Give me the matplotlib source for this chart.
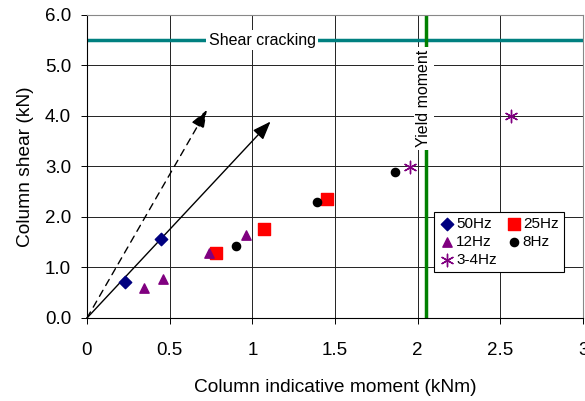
import matplotlib
matplotlib.use("Agg")
import matplotlib.pyplot as plt
import numpy as np

plt.rcParams['font.family'] = ['Liberation Sans', 'DejaVu Sans']

# data (moment kNm, shear kN)
m_50 = [0.23, 0.448]
v_50 = [0.71, 1.57]
m_25 = [0.78, 1.07, 1.45]
v_25 = [1.28, 1.76, 2.35]
m_12 = [0.343, 0.46, 0.735, 0.96]
v_12 = [0.59, 0.77, 1.28, 1.64]
m_8 = [0.90, 1.39, 1.86]
v_8 = [1.43, 2.29, 2.90]
m_34 = [1.955, 2.564]
v_34 = [2.99, 4.0]

shear_cracking = 5.5
yield_moment = 2.05
arrow_dash = (0.725, 4.12)
arrow_solid = (1.11, 3.89)

fig = plt.figure(figsize=(5.85, 4.01), dpi=100)
ax = fig.add_axes([0.1487, 0.207, 0.848, 0.7556])

ax.set_xlim(0, 3)
ax.set_ylim(0, 6)
ax.set_xticks(np.arange(0, 3.01, 0.5))
ax.set_xticklabels(['0', '0.5', '1', '1.5', '2', '2.5', '3'])
ax.set_yticks(np.arange(0, 6.01, 1))
ax.set_yticklabels(['%.1f' % v for v in np.arange(0, 6.01, 1)])
ax.grid(True, color='#222222', lw=0.7)
ax.set_axisbelow(True)
ax.tick_params(direction='out', length=4.5, width=0.7, labelsize=13.5)
ax.tick_params(axis='x', pad=13)
ax.tick_params(axis='y', pad=7)
for s in ['top', 'right']:
    ax.spines[s].set_color('#888888')

# reference lines
ax.axhline(shear_cracking, color='#008080', lw=2.5, zorder=2)
ax.text(1.06, shear_cracking, 'Shear cracking', fontsize=11.5, ha='center', va='center',
        bbox=dict(facecolor='white', edgecolor='none', pad=2), zorder=3)
ax.axvline(yield_moment, color='#008000', lw=2.5, zorder=2)
ax.text(2.038, 4.34, 'Yield moment', fontsize=11.5, rotation=90, ha='center', va='center',
        bbox=dict(facecolor='white', edgecolor='none', pad=2), zorder=3)

# arrows
head = '-|>,head_length=0.8,head_width=0.3'
ax.annotate('', xy=arrow_dash, xytext=(0, 0),
            arrowprops=dict(arrowstyle=head, color='k', lw=1, ls=(0, (5, 4)),
                            mutation_scale=14, shrinkA=0, shrinkB=0), zorder=4)
ax.annotate('', xy=arrow_solid, xytext=(0, 0),
            arrowprops=dict(arrowstyle=head, color='k', lw=1,
                            mutation_scale=14, shrinkA=0, shrinkB=0), zorder=4)

# data
h50 = ax.scatter(m_50, v_50, marker='D', s=40, color='#000080', zorder=5, label='50Hz')
h25 = ax.scatter(m_25, v_25, marker='s', s=75, color='#ff0000', zorder=5, label='25Hz')
h12 = ax.scatter(m_12, v_12, marker='^', s=45, color='#800080', zorder=5, label='12Hz')
h8 = ax.scatter(m_8, v_8, marker='o', s=35, color='k', zorder=5, label='8Hz')
h34 = ax.scatter(m_34, v_34, marker=(6, 2, 0), s=80, color='#800080', lw=1, zorder=5, label='3-4Hz')

leg = ax.legend(handles=[h50, h12, h34, h25, h8], ncol=2, loc='lower left',
                bbox_to_anchor=(0.6996, 0.152), borderaxespad=0, fontsize=11,
                fancybox=False, framealpha=1, edgecolor='k', handletextpad=0.1,
                columnspacing=0.6, labelspacing=0.25, borderpad=0.35, handlelength=1.0)
leg.get_frame().set_linewidth(0.8)

ax.set_xlabel('Column indicative moment (kNm)', fontsize=13.8, labelpad=14)
ax.set_ylabel('Column shear (kN)', fontsize=13.8, labelpad=8)

fig.savefig('out.png', dpi=100)
